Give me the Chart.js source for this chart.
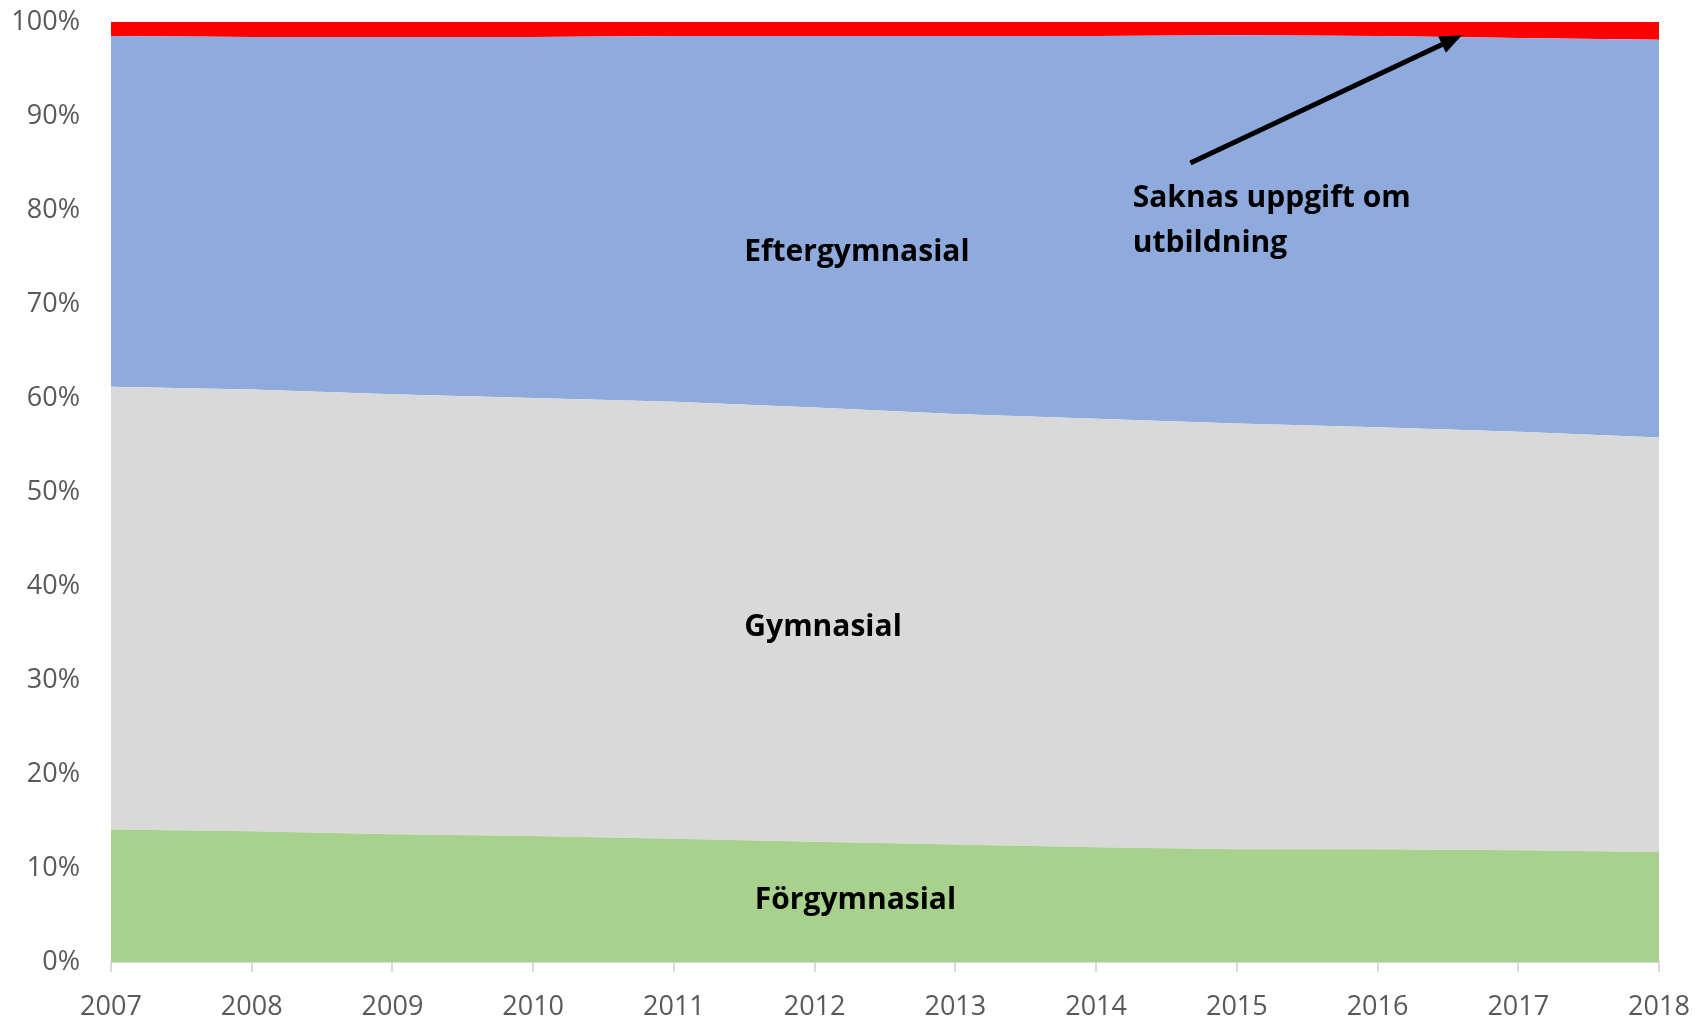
<!DOCTYPE html>
<html>
<head>
<meta charset="utf-8">
<script src="https://cdn.jsdelivr.net/npm/chart.js@4/dist/chart.umd.min.js"></script>
<style>
  html, body { margin: 0; padding: 0; background: #ffffff; }
  #wrap { width: 1696px; height: 1019px; }
</style>
</head>
<body>
<div id="wrap"><canvas id="c" width="1696" height="1019"></canvas></div>
<script>
const years = ['2007','2008','2009','2010','2011','2012','2013','2014','2015','2016','2017','2018'];
const forgymnasial   = [14.1, 13.9, 13.6, 13.4, 13.1, 12.8, 12.5, 12.2, 12.0, 12.0, 11.9, 11.7];
const gymnasial      = [47.1, 47.0, 46.8, 46.6, 46.5, 46.2, 45.8, 45.6, 45.3, 44.9, 44.5, 44.1];
const eftergymnasial = [37.3, 37.5, 38.0, 38.4, 38.9, 39.5, 40.2, 40.7, 41.3, 41.6, 41.9, 42.3];
const saknas         = [1.5, 1.6, 1.6, 1.6, 1.5, 1.5, 1.5, 1.5, 1.4, 1.5, 1.7, 1.9];
const seriesNames = ['Förgymnasial', 'Gymnasial', 'Eftergymnasial', 'Saknas uppgift om utbildning'];
const yTicks = [0, 10, 20, 30, 40, 50, 60, 70, 80, 90, 100];

// text annotations: [text, x (category index), y (%), align]
const labels = [
  ['Eftergymnasial', 5.3, 75.5, 'center'],
  ['Gymnasial', 5.06, 35.6, 'center'],
  ['Förgymnasial', 5.29, 6.6, 'center'],
  ['Saknas uppgift om', 7.26, 81.2, 'left'],
  ['utbildning', 7.26, 76.4, 'left']
];
// arrow: from (x index, %) to (x index, %)
const arrowFrom = [7.67, 85.0];
const arrowTo = [9.6, 98.6];

const FONT = '"Open Sans", "Liberation Sans", sans-serif';

const annotPlugin = {
  id: 'annot',
  afterDatasetsDraw(chart) {
    const ctx = chart.ctx, xs = chart.scales.x, ys = chart.scales.y;
    ctx.save();
    ctx.fillStyle = '#000';
    ctx.font = 'bold 30px ' + FONT;
    ctx.textBaseline = 'middle';
    labels.forEach(([t, xi, yv, al]) => {
      ctx.textAlign = al;
      ctx.fillText(t, xs.getPixelForValue(xi), ys.getPixelForValue(yv));
    });
    const x1 = xs.getPixelForValue(arrowFrom[0]), y1 = ys.getPixelForValue(arrowFrom[1]);
    const x2 = xs.getPixelForValue(arrowTo[0]), y2 = ys.getPixelForValue(arrowTo[1]);
    const ang = Math.atan2(y2 - y1, x2 - x1);
    const hl = 22, hw = 9;
    const bx = x2 - hl * Math.cos(ang), by = y2 - hl * Math.sin(ang);
    ctx.strokeStyle = '#000';
    ctx.lineWidth = 5;
    ctx.beginPath();
    ctx.moveTo(x1, y1);
    ctx.lineTo(bx, by);
    ctx.stroke();
    ctx.beginPath();
    ctx.moveTo(x2, y2);
    ctx.lineTo(bx + hw * Math.sin(ang), by - hw * Math.cos(ang));
    ctx.lineTo(bx - hw * Math.sin(ang), by + hw * Math.cos(ang));
    ctx.closePath();
    ctx.fill();
    ctx.restore();
  }
};

const colors = ['#A9D18E', '#D9D9D9', '#8FAADC', '#FF0000'];
const values = [forgymnasial, gymnasial, eftergymnasial, saknas];

new Chart(document.getElementById('c'), {
  type: 'line',
  data: {
    labels: years,
    datasets: values.map((v, i) => ({
      label: seriesNames[i],
      data: v,
      backgroundColor: colors[i],
      borderColor: colors[i],
      borderWidth: 0,
      pointRadius: 0,
      tension: 0,
      fill: i === 0 ? 'origin' : '-1'
    }))
  },
  options: {
    responsive: false,
    devicePixelRatio: 1,
    animation: false,
    layout: { padding: { top: 22, right: 37, left: 0, bottom: 0 } },
    plugins: { legend: { display: false }, tooltip: { enabled: false } },
    scales: {
      x: {
        offset: false,
        grid: { display: true, drawOnChartArea: false, drawTicks: true, tickLength: 10, color: '#D9D9D9', lineWidth: 2 },
        border: { display: true, color: '#D9D9D9', width: 2 },
        ticks: { color: '#595959', font: { family: FONT, size: 27 }, padding: 19, maxRotation: 0, autoSkip: false },
        afterFit(s) { s.height = 57; s.paddingLeft = 0; s.paddingRight = 0; }
      },
      y: {
        stacked: true,
        min: 0, max: 100,
        afterBuildTicks(s) { s.ticks = yTicks.map(v => ({ value: v })); },
        grid: { display: false, drawTicks: false },
        border: { display: false },
        ticks: { color: '#595959', font: { family: FONT, size: 27 }, padding: 31, callback: v => v + '%' },
        afterFit(s) { s.width = 111; s.paddingTop = 0; s.paddingBottom = 0; }
      }
    }
  },
  plugins: [annotPlugin]
});
</script>
</body>
</html>
